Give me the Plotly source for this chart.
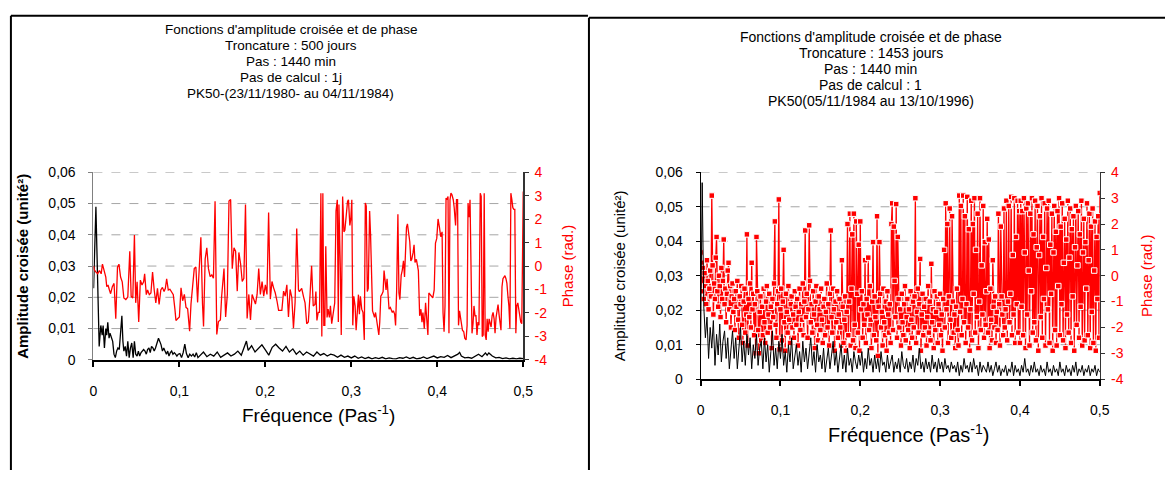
import plotly.graph_objects as go

W, H = 1175, 478

# ---------------- Left panel data (Troncature 500 jours) ----------------
L_AMP_F = [0.0002, 0.0017, 0.0029, 0.004, 0.0052, 0.0067, 0.0086, 0.0102, 0.0113, 0.0128,
           0.0144, 0.0155, 0.0167, 0.0182, 0.0193, 0.0209, 0.0224, 0.0239, 0.0255, 0.027,
           0.0285, 0.0301, 0.0316, 0.0331, 0.0343, 0.0354, 0.037, 0.0385, 0.04, 0.0416,
           0.0431, 0.0446, 0.0462, 0.0477, 0.0492, 0.0508, 0.0523, 0.0538, 0.0554, 0.0569,
           0.0584, 0.06, 0.0615, 0.063, 0.0646, 0.0661, 0.0676, 0.0692, 0.0707, 0.0722,
           0.0738, 0.0757, 0.0772, 0.0787, 0.0803, 0.0818, 0.0833, 0.0849, 0.0864, 0.0879,
           0.0895, 0.091, 0.0925, 0.0941, 0.0956, 0.0971, 0.0987, 0.1006, 0.1025, 0.1044,
           0.1063, 0.1082, 0.1102, 0.1121, 0.114, 0.1159, 0.1178, 0.1197, 0.1216,
           0.124, 0.128, 0.132, 0.136, 0.14, 0.144, 0.148, 0.152, 0.156, 0.16,
           0.164, 0.168, 0.172, 0.176, 0.178, 0.18, 0.184, 0.188, 0.192, 0.196,
           0.2, 0.204, 0.208, 0.212, 0.216, 0.22, 0.224, 0.228, 0.232, 0.236,
           0.24, 0.244, 0.248, 0.252, 0.256, 0.26, 0.264, 0.268, 0.272, 0.276,
           0.28, 0.284, 0.288, 0.292, 0.296, 0.3, 0.304, 0.308, 0.312, 0.316,
           0.32, 0.324, 0.328, 0.332, 0.336, 0.34, 0.344, 0.348, 0.352, 0.356,
           0.36, 0.364, 0.368, 0.372, 0.376, 0.38, 0.384, 0.388, 0.392, 0.396,
           0.4, 0.404, 0.408, 0.412, 0.416, 0.42, 0.424, 0.426, 0.428, 0.432,
           0.436, 0.44, 0.444, 0.448, 0.452, 0.456, 0.458, 0.46, 0.464, 0.468,
           0.472, 0.476, 0.48, 0.484, 0.488, 0.492, 0.496, 0.5]
L_AMP = [0.0229, 0.041, 0.049, 0.0358, 0.0182, 0.0043, 0.011, 0.0079, 0.011, 0.0038,
         0.010, 0.0079, 0.012, 0.0069, 0.0085, 0.0069, 0.0059, 0.0018, 0.0007, 0.0028,
         0.0038, 0.0033, 0.0079, 0.0141, 0.0059, 0.0028, 0.0043, 0.0012, 0.0059, 0.0007,
         0.0038, 0.0054, 0.0007, 0.0059, 0.0018, 0.0012, 0.0028, 0.0012, 0.0023, 0.0028,
         0.0033, 0.0028, 0.0018, 0.0033, 0.0038, 0.0023, 0.0043, 0.0038, 0.0028, 0.0038,
         0.0054, 0.0069, 0.0059, 0.0048, 0.0028, 0.0038, 0.0028, 0.0018, 0.0028, 0.0012,
         0.0023, 0.0028, 0.0018, 0.0023, 0.0018, 0.0012, 0.0018, 0.002, 0.0007, 0.0023,
         0.005, 0.002, 0.0007, 0.0018, 0.0012, 0.0018, 0.0009, 0.0023, 0.0007,
         0.0015, 0.0025, 0.001, 0.0018, 0.0012, 0.0025, 0.0008, 0.0015, 0.0022, 0.0012,
         0.0018, 0.0028, 0.0015, 0.0045, 0.006, 0.003, 0.0045, 0.0025, 0.0035, 0.0048,
         0.0032, 0.0015, 0.004, 0.005, 0.0038, 0.0028, 0.0043, 0.0025, 0.0035, 0.0018,
         0.0028, 0.0015, 0.0025, 0.0018, 0.0012, 0.0025, 0.0015, 0.002, 0.0012, 0.0018,
         0.0015, 0.0008, 0.0015, 0.0008, 0.0012, 0.0006, 0.0012, 0.0005, 0.0009, 0.0004,
         0.0008, 0.0003, 0.0007, 0.0004, 0.0008, 0.0003, 0.0006, 0.0004, 0.0003, 0.0007,
         0.0005, 0.0009, 0.0004, 0.0008, 0.0003, 0.0005, 0.0009, 0.0004, 0.0007, 0.0012,
         0.0006, 0.001, 0.0008, 0.0014, 0.0007, 0.0012, 0.0018, 0.0024, 0.0012, 0.0006,
         0.0008, 0.0005, 0.0012, 0.0018, 0.001, 0.0022, 0.0015, 0.0022, 0.0012, 0.0006,
         0.0008, 0.0004, 0.0006, 0.0003, 0.0005, 0.0003, 0.0005, 0.0004]

L_PH_F = [0.0002, 0.001, 0.003, 0.005, 0.007, 0.009, 0.0105, 0.0125, 0.0144, 0.0155,
          0.017, 0.0186, 0.020, 0.022, 0.024, 0.026, 0.028, 0.0297, 0.0316, 0.0335,
          0.0354, 0.0377, 0.040, 0.0423, 0.0439, 0.0458, 0.0477, 0.0492, 0.0508, 0.0527,
          0.0546, 0.0565, 0.0584, 0.0596, 0.0615, 0.063, 0.065, 0.0669, 0.0688, 0.0707,
          0.0726, 0.0745, 0.0764, 0.0784, 0.0803, 0.0822, 0.0837, 0.0852, 0.0871, 0.089,
          0.091, 0.0929, 0.0948, 0.096, 0.0979,
          0.1000, 0.1019, 0.1038, 0.1058, 0.1077, 0.1096, 0.1119, 0.1135, 0.1154, 0.1173,
          0.1192, 0.1212, 0.1223, 0.1250, 0.1269, 0.1281, 0.1300, 0.1319, 0.1338, 0.1358,
          0.1377, 0.1396, 0.1415, 0.1435, 0.1454, 0.1477, 0.1492, 0.1519, 0.1538, 0.1558,
          0.1577, 0.1596, 0.1615, 0.1635, 0.1654, 0.1673, 0.1692, 0.1712, 0.1731, 0.1750,
          0.1769, 0.1788, 0.1808, 0.1827, 0.1846, 0.1865, 0.1885, 0.1904, 0.1923, 0.1942,
          0.1962, 0.1981, 0.2000, 0.2019, 0.2038, 0.2058, 0.2077, 0.2096, 0.2115, 0.2135,
          0.2154, 0.2173, 0.2192, 0.2212, 0.2231, 0.2250, 0.2269, 0.2288, 0.2308, 0.2327,
          0.2346, 0.2365, 0.2385, 0.2396, 0.2423, 0.2443, 0.2462, 0.2481,
          0.2500, 0.2519, 0.2538, 0.2557, 0.2577, 0.2588, 0.2600, 0.2615, 0.2630, 0.2646,
          0.2657, 0.2669, 0.2680, 0.2692, 0.2703, 0.2718, 0.2730, 0.2745, 0.2757, 0.2772,
          0.2787, 0.2807, 0.2822, 0.2837, 0.2849, 0.2856, 0.2872, 0.2883, 0.2899, 0.2914,
          0.2925, 0.2941, 0.2956, 0.2967, 0.2983, 0.2994, 0.3006, 0.3017, 0.3029, 0.3044,
          0.3056, 0.3067, 0.3083, 0.3094, 0.3106, 0.3121, 0.3136, 0.3151, 0.3163, 0.3174,
          0.3186, 0.3197, 0.3213, 0.3224, 0.3236, 0.3247, 0.3259, 0.3270, 0.3282, 0.3297,
          0.3308, 0.3320, 0.3331, 0.3343, 0.3354, 0.3370, 0.3381, 0.3393, 0.3404, 0.3416,
          0.3427, 0.3439, 0.3454, 0.3466, 0.3477, 0.3489, 0.3504, 0.3515, 0.3527, 0.3542,
          0.3554, 0.3565, 0.3580, 0.3592, 0.3607, 0.3619, 0.3630, 0.3642, 0.3653, 0.3665,
          0.3680, 0.3692, 0.3703, 0.3718, 0.3730, 0.3741, 0.3757, 0.3780, 0.3795, 0.3810,
          0.3822, 0.3833, 0.3849, 0.3864, 0.3879, 0.3891, 0.3902, 0.3917, 0.3933, 0.3948,
          0.3964, 0.3979, 0.3994, 0.4009, 0.4025, 0.4040, 0.4056, 0.4067, 0.4079, 0.4090,
          0.4102, 0.4113, 0.4125, 0.4136, 0.4148, 0.4159, 0.4171, 0.4186, 0.4197, 0.4213,
          0.4224, 0.4236, 0.4247, 0.4259, 0.4270, 0.4282, 0.4293, 0.4308, 0.4320, 0.4335,
          0.4347, 0.4358, 0.4370, 0.4381, 0.4393, 0.4404, 0.4416, 0.4427, 0.4439, 0.4450,
          0.4462, 0.4473, 0.4485, 0.4500, 0.4511, 0.4523, 0.4534, 0.4546, 0.4557, 0.4569,
          0.4580, 0.4592, 0.4603, 0.4615, 0.4626, 0.4638, 0.4649, 0.4661, 0.4672, 0.4684,
          0.4695, 0.4707, 0.4718, 0.4730, 0.4741, 0.4753, 0.4764, 0.4776, 0.4787, 0.4799,
          0.4810, 0.4822, 0.4833, 0.4845, 0.4856, 0.4868, 0.4879, 0.4891, 0.4902, 0.4914,
          0.4925, 0.4937, 0.4948, 0.4960, 0.4971, 0.4983, 0.5000]
L_PH = [0.0, -0.16, -0.26, -0.33, -0.19, -0.33, 0.08, -0.26, -0.47, -0.88,
        -0.81, -1.02, -1.18, -0.88, -0.74, -2.25, -0.05, 0.08, -0.47, -0.67,
        -1.36, -1.43, -1.32, 0.63, -1.29, -1.36, 1.32, -1.57, -0.67, -2.39,
        -0.60, -0.81, -0.67, -0.33, -1.22, -1.02, -1.22, -1.15, -0.26, -1.02,
        -1.57, -0.95, -1.64, -1.02, -0.91, -1.09, -0.95, -0.54, -1.02, -0.99,
        -1.09, -1.22, -1.84, -2.32, -2.25,
        -2.17, -0.93, -1.48, -1.21, -1.76, -1.82, -2.78, -1.62, -0.66, -0.11,
        -0.04, -1.55, -0.66, 1.23, -1.62, -2.58, 0.30, 0.78, -0.11, -0.45,
        -0.38, -0.52, 2.77, -2.92, -2.37, -2.30, -1.28, -0.11, -2.17, -1.21,
        2.77, 2.84, -0.11, 0.78, 0.64, -1.07, 0.58, 0.10, -0.66, -0.52,
        2.63, -2.24, -1.21, -2.30, -1.21, -1.41, -1.62, -1.21, -0.11, -1.21,
        -0.66, -1.28, -0.80, -1.21, 2.29, -1.41, -0.66, -0.93, -1.14, -1.48,
        -1.89, -1.89, -1.89, -1.07, -1.28, -0.80, -2.17, -1.00, -1.34, -2.65,
        -1.55, 1.60, -1.00, -1.09, -0.95, -1.29, -1.57, -2.46,
        -2.39, -1.29, 0.01, -1.70, -1.64, -1.09, -2.32, -1.98, -1.98, 3.11,
        -3.01, 3.11, -2.53, -2.53, 0.84, -2.19, -1.84, -2.19, -1.70, -2.46,
        -2.05, -1.57, 2.35, 2.83, -2.39, 2.63, -0.05, -2.94, 2.97, 1.46,
        1.53, 2.21, 2.76, 2.83, 1.73, 2.01, 2.83, -2.53, -1.29, -1.70,
        -2.74, -2.12, -1.22, -2.05, -1.29, -1.84, -1.98, -3.15, 2.69, 2.56,
        -1.09, -0.95, 2.35, 1.32, -0.88, -1.91, -2.05, -2.19, -1.98, -2.32,
        -2.74, -2.94, -2.39, -1.29, -1.22, -1.09, -0.19, -0.60, -1.02, -0.54,
        -1.29, -1.84, -1.77, -1.91, -1.98, -1.91, -2.05, -2.53, -1.09, 2.21,
        -1.15, -1.43, -0.40, -0.19, 0.22, -0.47, 1.04, 1.66, 1.80, 1.46,
        1.04, 0.22, 0.29, 0.56, 0.91, 0.15, 0.29, -0.19, -2.12, -1.84,
        -2.39, -1.98, -2.67, -1.57, -2.67, -2.94, -1.15, -1.22, -1.29, -1.36,
        -1.02, 0.98, 1.18, 2.01, 1.66, 1.25, 1.46, -1.98, -2.80, -1.70,
        2.90, 2.83, 2.97, -2.87, 2.83, 3.11, 3.04, 2.83, 2.49, 1.73,
        2.83, 2.83, -2.53, -1.91, -2.19, -2.60, -2.74, -2.80, -3.08, -3.15,
        -2.53, 2.69, 2.08, 2.83, -1.70, -2.87, -2.46, -1.70, -2.12, -2.12,
        -2.94, -2.39, -2.53, 3.11, 2.97, -3.01, -2.94, 3.11, -2.94, -3.15,
        -2.25, -2.80, -2.25, -2.53, -2.60, -2.12, -1.98, -2.25, -2.87, -2.19,
        -1.98, -1.64, -2.05, -2.39, -2.74, -0.88, -0.54, -0.47, -0.41, -0.54,
        -0.74, -1.29, -1.70, -2.67, 3.11, 2.83, 2.49, 2.42, 2.42, -2.87,
        -1.70, -1.57, -1.91, -2.12, -2.39, -2.46, 3.18]

# ---------------- Right panel data (Troncature 1453 jours) ----------------
R_AMP_STEP = 0.002
R_AMP = [0.010, 0.057, 0.021, 0.012, 0.018, 0.006, 0.015, 0.009, 0.017, 0.004,
         0.013, 0.007, 0.016, 0.005, 0.011, 0.014, 0.006, 0.012, 0.003, 0.010,
         0.014, 0.006, 0.012, 0.003, 0.009, 0.015, 0.005, 0.011, 0.004, 0.013,
         0.007, 0.012, 0.003, 0.010, 0.006, 0.013, 0.004, 0.009, 0.011, 0.003,
         0.012, 0.005, 0.010, 0.002, 0.008, 0.014, 0.004, 0.009, 0.003, 0.011,
         0.006, 0.013, 0.004, 0.008, 0.002, 0.010, 0.005, 0.012, 0.003, 0.007,
         0.010, 0.004, 0.008, 0.002, 0.011, 0.005, 0.009, 0.003, 0.007, 0.012,
         0.004, 0.008, 0.002, 0.010, 0.005, 0.007, 0.003, 0.009, 0.002, 0.006,
         0.009, 0.003, 0.007, 0.011, 0.004, 0.008, 0.002, 0.006, 0.010, 0.003,
         0.007, 0.002, 0.009, 0.004, 0.006, 0.002, 0.008, 0.005, 0.003, 0.007,
         0.004, 0.008, 0.002, 0.006, 0.003, 0.009, 0.004, 0.006, 0.002, 0.007,
         0.003, 0.006, 0.002, 0.008, 0.004, 0.005, 0.002, 0.007, 0.003, 0.005,
         0.007, 0.002, 0.005, 0.003, 0.006, 0.002, 0.008, 0.004, 0.003, 0.006,
         0.002, 0.005, 0.003, 0.007, 0.002, 0.006, 0.004, 0.009, 0.003, 0.005,
         0.002, 0.006, 0.003, 0.005, 0.002, 0.007, 0.003, 0.005, 0.002, 0.006,
         0.003, 0.005, 0.002, 0.006, 0.003, 0.004, 0.002, 0.005, 0.003, 0.004,
         0.002, 0.005, 0.001, 0.004, 0.002, 0.006, 0.003, 0.004, 0.002, 0.005,
         0.002, 0.006, 0.003, 0.004, 0.001, 0.005, 0.002, 0.004, 0.003, 0.002,
         0.005, 0.002, 0.004, 0.001, 0.003, 0.005, 0.002, 0.004, 0.001, 0.003,
         0.002, 0.004, 0.001, 0.003, 0.002, 0.005, 0.001, 0.004, 0.002, 0.003,
         0.001, 0.004, 0.002, 0.006, 0.002, 0.003, 0.001, 0.004, 0.002, 0.005,
         0.002, 0.003, 0.001, 0.004, 0.002, 0.003, 0.001, 0.005, 0.002, 0.003,
         0.001, 0.004, 0.002, 0.003, 0.001, 0.005, 0.002, 0.003, 0.001, 0.004,
         0.002, 0.003, 0.001, 0.004, 0.002, 0.005, 0.001, 0.003, 0.002, 0.004,
         0.001, 0.003, 0.002, 0.004, 0.001, 0.003, 0.002, 0.004, 0.001, 0.003,
         0.002]
R_PH_STEP = 0.001
R_PH = [0.9, 0.5, -0.6, 0.3, -0.9, 0.1, -0.4, -1.1, 0.6, -0.2, -1.3, -0.5, 0.2, -0.8, 3.1, 0.4, -1.5, -0.3, -0.9, 0.7,
        1.5, -0.6, -1.2, 0.0, -0.4, -1.6, 0.3, -0.9, -0.2, 1.4, -1.1, -0.5, -1.8, -0.7, 0.2, 0.5, -1.3, -0.4, -2.0, -0.8,
        -0.3, -1.4, -0.9, -2.1, -0.6, -1.2, -0.2, -1.7, -2.4, -0.8, -1.1, -0.4, -1.9, -2.6, -1.0, -0.5, -2.2, -1.5, 1.6, -2.7,
        -0.9, -1.6, -0.3, -2.0, 0.5, -1.3, -0.7, -2.3, -1.1, -3.0, 1.5, -0.6, -2.1, -3.0, -1.4, -0.8, -2.5, -1.2, -2.3, -0.5,
        -1.8, -2.6, -1.0, -0.4, -2.2, -1.5, -0.7, -2.0, -1.2, -2.8, -0.9, -1.6, -0.3, 2.1, -1.9, -2.4, -1.1, -0.6, 2.95, -2.85,
        -1.3, -0.5, -2.5, -1.0, 1.0, -1.8, -2.9, -0.7, -1.4, -2.2, -0.4, -1.7, -2.6, -1.1, -0.8, -2.0, -1.5, -2.4, -0.6, -1.2,
        -1.9, -0.9, -2.7, -1.4, -0.5, -2.1, -1.1, -1.7, -0.3, -2.3, -1.0, 1.75, -1.6, -0.7, -2.4, -1.3, 1.95, -0.2, -1.8, -1.1,
        -2.2, -0.6, -1.5, -2.8, -1.0, -0.4, -1.9, -2.5, -0.8, -1.3, -2.1, -0.5, -1.7, -2.6, -1.2, -0.9, -2.3, -1.4, -0.3, -2.0,
        -1.1, -2.7, -0.7, 1.75, -1.6, -2.2, -0.5, -1.3, -2.9, -1.0, -1.8, -0.6, -2.4, -1.5, -0.9, -2.0, -2.7, 0.6, -1.2, -2.6,
        -1.7, -0.8, -2.9, -1.4, 2.0, -2.3, -1.0, 2.4, -2.7, -0.5, 1.6, -2.5, 2.4, -1.9, -2.8, 2.1, -0.7, -2.2, 1.2, -2.9,
        2.1, -1.3, -0.6, -2.4, -1.1, -1.9, 0.6, -2.6, -0.9, -1.5, 0.7, -2.1, -0.4, -1.7, -2.8, -1.0, 1.3, -2.3, -0.8, -1.6,
        -2.5, 2.3, -3.1, -1.2, 1.3, -0.7, -2.0, -1.4, -2.7, -0.5, -1.8, -2.3, -1.0, -2.9, -0.6, -1.5, -2.2, -1.1, -2.6, 2.0,
        2.8, -2.1, 1.9, -0.2, -1.6, 2.77, -2.4, 1.5, -0.9, -2.0, -1.3, -2.7, -0.7, -1.8, -2.3, -1.1, -0.4, -2.5, -1.6, -0.9,
        -2.1, -1.3, -2.8, -0.6, -1.7, -2.4, -1.0, -2.0, -0.8, 3.0, -2.6, -1.4, -0.5, -2.2, -1.1, 0.65, -2.9, -1.5, -0.7, -2.3,
        -1.2, -2.0, -0.9, -2.7, -1.6, -0.4, -2.2, -1.0, -2.5, 0.46, -1.8, -1.3, -2.8, -0.6, -2.1, -1.4, -0.8, -2.6, -1.1, -1.9,
        -0.7, -2.3, -1.5, -2.9, -0.9, 1.0, -2.0, 2.8, -1.3, 2.0, -2.6, -0.8, 2.6, -1.7, -2.4, 2.3, -1.0, -2.2, -1.5, -2.8,
        -1.2, -0.5, -2.1, -2.7, 3.1, -1.4, 2.7, -2.3, -0.9, 3.1, -1.8, 2.3, -2.6, -1.1, 3.05, -2.0, 1.8, -2.9, -1.3, 2.9,
        -2.5, 2.0, -0.7, 3.0, -2.2, 1.0, -1.6, 2.4, -2.8, -1.0, 3.0, -2.1, 0.4, -1.5, 2.7, -2.4, 1.3, -1.9, -0.6, 2.2,
        -2.2, 1.4, -2.8, -0.5, -1.7, -2.5, 0.6, -1.2, -2.0, -0.8, -2.6, -1.4, -2.1, 2.4, -1.1, -2.7, 1.9, -0.8, -1.5, -2.3,
        2.6, -2.0, -1.3, 2.9, -2.5, -1.0, 2.7, -1.8, -0.7, 3.05, -2.3, 0.8, -1.5, 3.0, -2.6, 1.5, -1.1, 2.9, -2.2, 2.5,
        -2.6, 2.9, -1.2, 2.5, -2.3, 3.0, 0.9, -2.8, 2.6, -1.5, 2.8, 0.2, -2.7, 2.4, -0.6, 3.0, -2.2, 1.6, -1.8, 2.9,
        -2.5, 1.1, 2.7, -2.9, 0.8, 2.3, -1.6, 3.0, -2.4, 1.5, -0.9, 2.8, -2.7, 0.3, 2.6, -1.3, 2.9, -2.6, 1.2, -0.7,
        2.4, -2.9, 0.9, 2.7, -2.1, 1.7, -2.7, 2.5, -0.4, 3.0, -2.3, 1.9, -1.1, 2.8, -2.5, 0.5, 2.2, -2.8, 1.4, -1.5,
        2.9, -2.2, 0.7, 2.6, -2.6, 1.8, -0.8, 2.3, -2.9, 1.1, 2.7, -1.9, 0.4, 2.5, -2.4, 1.6, -1.2, 2.9, -2.7, 0.9,
        2.2, -2.5, 1.3, -0.5, 2.8, -2.3, 0.6, 2.4, -2.8, 1.9, -1.4, 2.6, -2.6, 0.2, 2.1, -2.9, 1.5, -0.9, 2.3, -2.4,
        3.2]
R_AMP_F = [round(i * R_AMP_STEP, 4) for i in range(len(R_AMP))]
R_PH_F = [round(i * R_PH_STEP, 4) for i in range(len(R_PH))]

# ---------------- Texts / ticks ----------------
X_TICKS = [0, 0.1, 0.2, 0.3, 0.4, 0.5]
X_TICKTEXT = ["0", "0,1", "0,2", "0,3", "0,4", "0,5"]
AMP_TICKS = [0, 0.01, 0.02, 0.03, 0.04, 0.05, 0.06]
AMP_TICKTEXT = ["0", "0,01", "0,02", "0,03", "0,04", "0,05", "0,06"]
PH_TICKS = [-4, -3, -2, -1, 0, 1, 2, 3, 4]
PH_TICKTEXT = ["-4", "-3", "-2", "-1", "0", "1", "2", "3", "4"]
LEFT_TITLE = ["Fonctions d'amplitude croisée et de phase", "Troncature : 500 jours",
              "Pas : 1440 min", "Pas de calcul : 1j", "PK50-(23/11/1980- au 04/11/1984)"]
RIGHT_TITLE = ["Fonctions d'amplitude croisée et de phase", "Troncature : 1453 jours",
               "Pas : 1440 min", "Pas de calcul : 1", "PK50(05/11/1984 au 13/10/1996)"]

FONT = "Arial, 'Liberation Sans', sans-serif"
RED = "#ff0000"


def px(x):
    return x / W


def py(y):
    return 1 - y / H


fig = go.Figure()

# left panel
fig.add_trace(go.Scatter(x=L_AMP_F, y=L_AMP, mode="lines", line=dict(color="black", width=1.3),
                         xaxis="x", yaxis="y", showlegend=False, hoverinfo="skip"))
fig.add_trace(go.Scatter(x=L_PH_F, y=L_PH, mode="lines", line=dict(color=RED, width=1.3),
                         xaxis="x", yaxis="y2", showlegend=False, hoverinfo="skip"))
# right panel
fig.add_trace(go.Scatter(x=R_PH_F, y=R_PH, mode="lines+markers", line=dict(color=RED, width=1.3),
                         marker=dict(symbol="square", size=5.5, color=RED, line=dict(color="white", width=1)),
                         xaxis="x2", yaxis="y3", showlegend=False, hoverinfo="skip"))
fig.add_trace(go.Scatter(x=R_AMP_F, y=R_AMP, mode="lines", line=dict(color="black", width=1),
                         xaxis="x2", yaxis="y4", showlegend=False, hoverinfo="skip"))

tickfont = dict(family=FONT, size=14, color="black")
redfont = dict(family=FONT, size=14, color=RED)

L_DOM_X = [px(90.5), px(525.5)]
L_DOM_Y = [py(364), py(170)]
R_DOM_X = [px(705), px(1109)]
R_DOM_Y = [py(384), py(170)]


def xaxis(domain, anchor):
    return dict(domain=domain, anchor=anchor, range=[0, 0.5], tickvals=X_TICKS, ticktext=X_TICKTEXT,
                showline=True, linecolor="black", linewidth=2, ticks="outside", ticklen=5,
                tickcolor="black", tickwidth=2, tickfont=tickfont, showgrid=False, zeroline=False,
                ticklabelstandoff=12, fixedrange=True)


def ampaxis(domain, anchor, linecolor, overlay=None):
    d = dict(domain=domain, anchor=anchor, range=[0, 0.06], tickvals=AMP_TICKS, ticktext=AMP_TICKTEXT,
             showline=True, linecolor=linecolor, linewidth=1, ticks="outside", ticklen=4,
             tickcolor=linecolor, tickfont=tickfont, showgrid=False, zeroline=False, side="left",
             ticklabelstandoff=10, fixedrange=True)
    if overlay:
        d["overlaying"] = overlay
    return d


def phaxis(domain, anchor, overlay=None):
    d = dict(domain=domain, anchor=anchor, range=[-4, 4], tickvals=PH_TICKS, ticktext=PH_TICKTEXT,
             showline=True, linecolor="#333333", linewidth=1.5, ticks="outside", ticklen=4,
             tickcolor="#333333", tickfont=redfont, showgrid=False, zeroline=False, side="right",
             ticklabelstandoff=3, fixedrange=True)
    if overlay:
        d["overlaying"] = overlay
    return d


fig.update_layout(
    width=W, height=H, margin=dict(l=0, r=0, t=0, b=0),
    paper_bgcolor="white", plot_bgcolor="rgba(0,0,0,0)",
    font=dict(family=FONT, color="black"),
    separators=", ",
    xaxis=xaxis(L_DOM_X, "y"),
    yaxis=ampaxis(L_DOM_Y, "x", "#808080"),
    yaxis2=phaxis(L_DOM_Y, "x", overlay="y"),
    xaxis2=xaxis(R_DOM_X, "y3"),
    yaxis3=phaxis(R_DOM_Y, "x2"),
    yaxis4=ampaxis(R_DOM_Y, "x2", "black", overlay="y3"),
)

shapes = []
# dashed gridlines
for v in AMP_TICKS[1:]:
    shapes.append(dict(type="line", xref="x domain", yref="y", x0=0, x1=1, y0=v, y1=v,
                       line=dict(color="#a6a6a6", width=1, dash="dash"), layer="below"))
    shapes.append(dict(type="line", xref="x2 domain", yref="y4", x0=0, x1=1, y0=v, y1=v,
                       line=dict(color="#a6a6a6", width=1, dash="dash"), layer="below"))
# panel frames
for (x0, y0, x1, y1) in [(7, 8, 7, H), (7, 8, 591, 8), (592, 10, 592, H), (592, 10, W, 10)]:
    shapes.append(dict(type="line", xref="paper", yref="paper", x0=px(x0), x1=px(x1), y0=py(y0), y1=py(y1),
                       line=dict(color="black", width=2)))
fig.update_layout(shapes=shapes)

ann = []
for i, t in enumerate(LEFT_TITLE):
    ann.append(dict(text=t, x=px(290), y=py(22 + 16.5 * i), xref="paper", yref="paper",
                    showarrow=False, xanchor="center", yanchor="middle",
                    font=dict(family=FONT, size=13.5, color="black")))
for i, t in enumerate(RIGHT_TITLE):
    ann.append(dict(text=t, x=px(877), y=py(30 + 16.5 * i), xref="paper", yref="paper",
                    showarrow=False, xanchor="center", yanchor="middle",
                    font=dict(family=FONT, size=14, color="black")))
# axis titles
ann.append(dict(text="Fréquence (Pas<sup>-1</sup>)", x=px(318), y=py(420), xref="paper", yref="paper",
                showarrow=False, xanchor="center", yanchor="middle", font=dict(family=FONT, size=19)))
ann.append(dict(text="Fréquence (Pas<sup>-1</sup>)", x=px(915), y=py(440), xref="paper", yref="paper",
                showarrow=False, xanchor="center", yanchor="middle", font=dict(family=FONT, size=20)))
ann.append(dict(text="<b>Amplitude croisée (unité²)</b>", x=px(18), y=py(267), xref="paper", yref="paper",
                showarrow=False, textangle=-90, xanchor="center", yanchor="middle",
                font=dict(family=FONT, size=15)))
ann.append(dict(text="Amplitude croisée (unité²)", x=px(623), y=py(277), xref="paper", yref="paper",
                showarrow=False, textangle=-90, xanchor="center", yanchor="middle",
                font=dict(family=FONT, size=15)))
ann.append(dict(text="Phase (rad.)", x=px(570), y=py(267), xref="paper", yref="paper",
                showarrow=False, textangle=-90, xanchor="center", yanchor="middle",
                font=dict(family=FONT, size=15, color=RED)))
ann.append(dict(text="Phase (rad.)", x=px(1157), y=py(277), xref="paper", yref="paper",
                showarrow=False, textangle=-90, xanchor="center", yanchor="middle",
                font=dict(family=FONT, size=15, color=RED)))
fig.update_layout(annotations=ann)

fig.write_html("out.html", config={"displayModeBar": False, "staticPlot": True},
               post_script="document.body.style.margin='0';document.body.style.padding='0';"
                           "document.body.style.overflow='hidden';")
